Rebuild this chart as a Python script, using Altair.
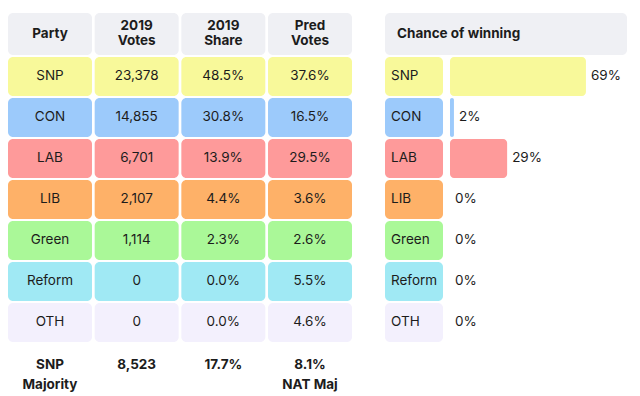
import altair as alt
import pandas as pd

# ---- data ----
parties = ["SNP", "CON", "LAB", "LIB", "Green", "Reform", "OTH"]
votes_2019 = [23378, 14855, 6701, 2107, 1114, 0, 0]
share_2019 = [48.5, 30.8, 13.9, 4.4, 2.3, 0.0, 0.0]
pred_votes = [37.6, 16.5, 29.5, 3.6, 2.6, 5.5, 4.6]
chance_win = [69, 2, 29, 0, 0, 0, 0]
headers = ["Party", "2019\nVotes", "2019\nShare", "Pred\nVotes"]
footer = ["SNP\nMajority", "8,523", "17.7%", "8.1%\nNAT Maj"]
chance_title = "Chance of winning"
party_colors = ["#f8f99a", "#9ccafb", "#fe9a9a", "#feb168", "#aaf898", "#a0e9f4", "#f3f0fd"]
header_color = "#eff0f4"

FONT = "Inter"
TXT = "#1c1c1c"
FS = 13.5

# ---- layout (row / column units) ----
ROW_H = 0.951
HDR_TOP = -0.073
COL_W = 0.969
HDR_LH = 15
y_scale = alt.Scale(domain=[-0.1951, 9.0732], reverse=True, nice=False, zero=False)
xl_scale = alt.Scale(domain=[0, 3.969], nice=False, zero=False)
color_scale = alt.Scale(domain=parties + ["Header"], range=party_colors + [header_color])

# table cells
cells = []
hdr_mid = (HDR_TOP + ROW_H) / 2
for c, h in enumerate(headers):
    n = h.count("\n") + 1
    cells.append(dict(x=c, x2=c + COL_W, y=HDR_TOP, y2=ROW_H, fill="Header",
                      text=h, yc=hdr_mid - (n - 1) * (HDR_LH / 2) / 41, xc=c + COL_W / 2, bold=True))
for i, p in enumerate(parties):
    r = i + 1
    vals = [p, f"{votes_2019[i]:,}", f"{share_2019[i]:.1f}%", f"{pred_votes[i]:.1f}%"]
    for c, v in enumerate(vals):
        cells.append(dict(x=c, x2=c + COL_W, y=r, y2=r + ROW_H, fill=p,
                          text=v, yc=r + ROW_H / 2, xc=c + COL_W / 2, bold=False))
cells_df = pd.DataFrame(cells)

foot_df = pd.DataFrame([dict(xc=c + COL_W / 2, yc=8.512, text=t) for c, t in enumerate(footer)])

X = alt.X("x:Q", scale=xl_scale, axis=None)
Y = alt.Y("y:Q", scale=y_scale, axis=None)
XC = alt.X("xc:Q", scale=xl_scale, axis=None)
YCL = alt.Y("yc:Q", scale=y_scale, axis=None)

rects = alt.Chart(cells_df).mark_rect(cornerRadius=5).encode(
    x=X, x2="x2:Q", y=Y, y2="y2:Q",
    color=alt.Color("fill:N", scale=color_scale, legend=None),
)
body_text = alt.Chart(cells_df).transform_filter("!datum.bold").mark_text(
    font=FONT, fontSize=FS, color=TXT, align="center", baseline="middle"
).encode(x=XC, y=YCL, text="text:N")
head_text = alt.Chart(cells_df).transform_filter("datum.bold").mark_text(
    font=FONT, fontSize=FS, fontWeight="bold", color=TXT, align="center", baseline="middle",
    lineBreak="\n", lineHeight=HDR_LH
).encode(x=XC, y=YCL, text="text:N")
foot_text = alt.Chart(foot_df).mark_text(
    font=FONT, fontSize=FS, fontWeight="bold", color=TXT, align="center", baseline="middle",
    lineBreak="\n", lineHeight=20
).encode(x=XC, y=YCL, text="text:N")

left = alt.layer(rects, body_text, head_text, foot_text).properties(width=344, height=380)

# ---- right panel ----
PX_PER = 1.97
xr_min = -65 / PX_PER
xr_max = xr_min + 242 / PX_PER
xr_scale = alt.Scale(domain=[xr_min, xr_max], nice=False, zero=False)
lab_right = -7 / PX_PER

rows = []
for i, p in enumerate(parties):
    r = i + 1
    rows.append(dict(party=p, y=r, y2=r + ROW_H, yc=r + ROW_H / 2, chance=chance_win[i],
                     lx=xr_min, lx2=lab_right, tx=xr_min + 6 / PX_PER, zero=0,
                     ctext=f"{chance_win[i]}%"))
rows_df = pd.DataFrame(rows)
hdr_df = pd.DataFrame([dict(x=xr_min, x2=xr_max, y=HDR_TOP, y2=ROW_H, yc=hdr_mid,
                            tx=xr_min + 12 / PX_PER, text=chance_title, fill="Header")])

YR = alt.Y("y:Q", scale=y_scale, axis=None)
YC = alt.Y("yc:Q", scale=y_scale, axis=None)
hdr_rect = alt.Chart(hdr_df).mark_rect(cornerRadius=5).encode(
    x=alt.X("x:Q", scale=xr_scale, axis=None), x2="x2:Q", y=YR, y2="y2:Q",
    color=alt.Color("fill:N", scale=color_scale, legend=None))
hdr_txt = alt.Chart(hdr_df).mark_text(
    font=FONT, fontSize=FS, fontWeight="bold", color=TXT, align="left", baseline="middle"
).encode(x=alt.X("tx:Q", scale=xr_scale, axis=None), y=YC, text="text:N")
lab_rect = alt.Chart(rows_df).mark_rect(cornerRadius=5).encode(
    x=alt.X("lx:Q", scale=xr_scale, axis=None), x2="lx2:Q", y=YR, y2="y2:Q",
    color=alt.Color("party:N", scale=color_scale, legend=None))
lab_txt = alt.Chart(rows_df).mark_text(
    font=FONT, fontSize=FS, color=TXT, align="left", baseline="middle"
).encode(x=alt.X("tx:Q", scale=xr_scale, axis=None), y=YC, text="party:N")
bars = alt.Chart(rows_df).mark_rect(cornerRadius=4).encode(
    x=alt.X("zero:Q", scale=xr_scale, axis=None), x2="chance:Q", y=YR, y2="y2:Q",
    color=alt.Color("party:N", scale=color_scale, legend=None))
val_txt = alt.Chart(rows_df).mark_text(
    font=FONT, fontSize=FS, color=TXT, align="left", baseline="middle", dx=5
).encode(x=alt.X("chance:Q", scale=xr_scale, axis=None), y=YC, text="ctext:N")

right = alt.layer(hdr_rect, hdr_txt, lab_rect, lab_txt, bars, val_txt).properties(width=242, height=380)

chart = alt.hconcat(left, right, spacing=33).properties(
    padding=0, background="white"
).configure_view(stroke=None)

chart.save("out.html", embed_options={"renderer": "svg", "actions": False})
